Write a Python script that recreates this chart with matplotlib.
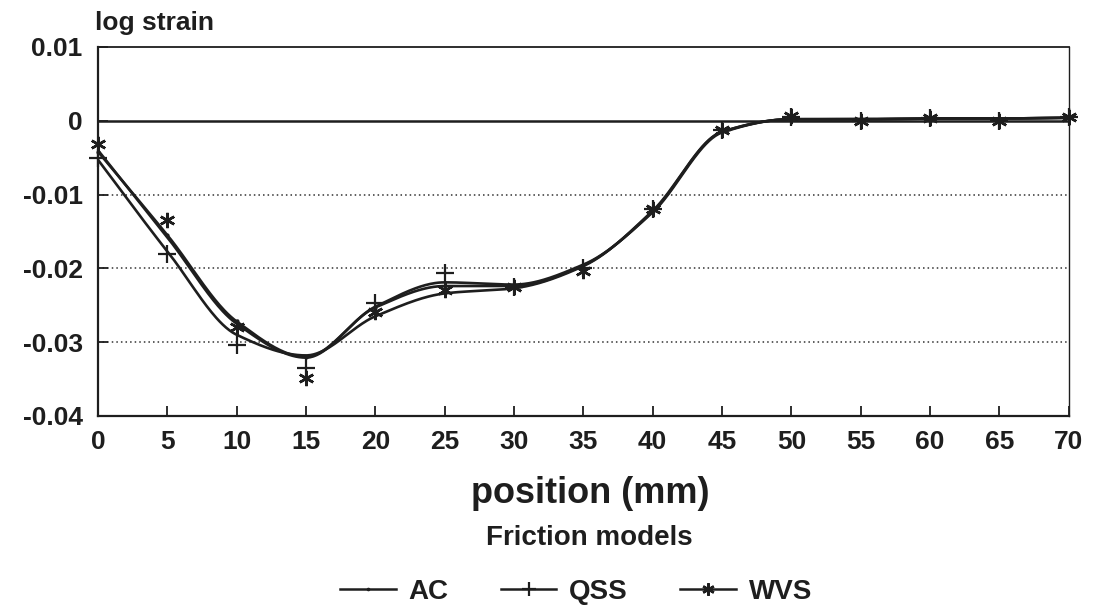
import numpy as np
import matplotlib.pyplot as plt

plt.rcParams['font.family'] = ['Liberation Sans', 'DejaVu Sans']
plt.rcParams['font.weight'] = 'bold'
plt.rcParams['axes.unicode_minus'] = False

positions = [0, 5, 10, 15, 20, 25, 30, 35, 40, 45, 50, 55, 60, 65, 70]

# measured points
ac_points = [-0.0042, -0.0155, -0.0272, -0.0320, -0.0254, -0.0224, -0.0224, -0.0196,
             -0.0123, -0.0015, 0.0002, 0.0002, 0.0003, 0.0003, 0.0004]
qss_points = [-0.0050, -0.0181, -0.0304, -0.0335, -0.0247, -0.0207, -0.0225, -0.0200,
              -0.0120, -0.0012, 0.0005, -0.0001, 0.0004, 0.0000, 0.0005]
wvs_points = [-0.0032, -0.0134, -0.0280, -0.0349, -0.0259, -0.0230, -0.0225, -0.0204,
              -0.0119, -0.0012, 0.0006, -0.0001, 0.0004, 0.0000, 0.0005]

# fitted curves, sampled every 5 mm
ac_fit = [-0.0042, -0.0155, -0.0272, -0.0320, -0.0253, -0.0224, -0.0224, -0.0196,
          -0.0123, -0.0015, 0.0002, 0.0002, 0.0003, 0.0003, 0.0004]
qss_fit = [-0.0053, -0.0177, -0.0290, -0.0318, -0.0265, -0.0234, -0.0227, -0.0197,
           -0.0122, -0.0015, 0.0002, 0.0002, 0.0003, 0.0003, 0.0004]
wvs_fit = [-0.0040, -0.0158, -0.0275, -0.0321, -0.0252, -0.0219, -0.0222, -0.0195,
           -0.0124, -0.0016, 0.0002, 0.0002, 0.0003, 0.0003, 0.0004]

series_names = ['AC', 'QSS', 'WVS']
y_ticks = [0.01, 0, -0.01, -0.02, -0.03, -0.04]
y_tick_labels = ['0.01', '0', '-0.01', '-0.02', '-0.03', '-0.04']


def pchip(x, y, xs):
    # monotone cubic (Fritsch-Carlson) so the flat tail doesn't ripple
    x = np.asarray(x, float)
    y = np.asarray(y, float)
    h = np.diff(x)
    d = np.diff(y) / h
    m = np.zeros_like(y)
    for k in range(1, len(x) - 1):
        if d[k - 1] * d[k] > 0:
            w1 = 2 * h[k] + h[k - 1]
            w2 = h[k] + 2 * h[k - 1]
            m[k] = (w1 + w2) / (w1 / d[k - 1] + w2 / d[k])
    m[0] = d[0]
    m[-1] = d[-1]
    idx = np.clip(np.searchsorted(x, xs) - 1, 0, len(x) - 2)
    t = (xs - x[idx]) / h[idx]
    h00 = 2 * t**3 - 3 * t**2 + 1
    h10 = t**3 - 2 * t**2 + t
    h01 = -2 * t**3 + 3 * t**2
    h11 = t**3 - t**2
    return (h00 * y[idx] + h10 * h[idx] * m[idx]
            + h01 * y[idx + 1] + h11 * h[idx] * m[idx + 1])


fig = plt.figure(figsize=(10.95, 6.09), dpi=100)
ax = fig.add_axes([0.0895, 0.317, 0.8865, 0.606])

ink = '#1e1e1e'
xs = np.linspace(0, 70, 600)

for yv in [-0.01, -0.02, -0.03]:
    ax.axhline(yv, color='#333333', lw=1.1, ls=(0, (1, 2)), zorder=1)
ax.axhline(0, color=ink, lw=1.8, zorder=2)

markers = {'AC': ('.', 4, 1.0), 'QSS': ('+', 13, 1.6), 'WVS': ((6, 2, 0), 11, 1.8)}
for name, pts, fit in zip(series_names, [ac_points, qss_points, wvs_points],
                          [ac_fit, qss_fit, wvs_fit]):
    ax.plot(xs, pchip(positions, fit, xs), color=ink, lw=1.9, zorder=3)
    mk, ms, mew = markers[name]
    ax.plot(positions, pts, ls='none', marker=mk, ms=ms, mew=mew,
            color=ink, zorder=4, clip_on=False)

ax.set_xlim(0, 70)
ax.set_ylim(-0.04, 0.01)
ax.set_xticks(positions)
ax.set_xticklabels([str(p) for p in positions])
ax.set_yticks(y_ticks)
ax.set_yticklabels(y_tick_labels)
ax.tick_params(direction='in', length=7, width=1.3, colors=ink, labelsize=19)
ax.tick_params(axis='x', pad=10)
ax.tick_params(axis='y', pad=11)
for s in ax.spines.values():
    s.set_color(ink)
ax.spines['left'].set_linewidth(1.6)
ax.spines['bottom'].set_linewidth(1.6)
ax.spines['top'].set_linewidth(1.3)
ax.spines['right'].set_linewidth(1.0)

fig.text(0.087, 0.962, 'log strain', fontsize=19, color=ink, ha='left', va='center')
fig.text(0.539, 0.190, 'position (mm)', fontsize=26, color=ink, ha='center', va='center')
fig.text(0.538, 0.117, 'Friction models', fontsize=20, color=ink, ha='center', va='center')

handles = [plt.Line2D([], [], color=ink, lw=1.8, marker=markers[n][0],
                      ms=markers[n][1] * 0.8, mew=markers[n][2]) for n in series_names]
fig.legend(handles, series_names, loc='center', bbox_to_anchor=(0.526, 0.028), ncol=3,
           frameon=False, fontsize=20, handlelength=2.0, columnspacing=1.9,
           handletextpad=0.45, labelcolor=ink, borderpad=0)

fig.savefig('out.png', dpi=100, facecolor='white')
